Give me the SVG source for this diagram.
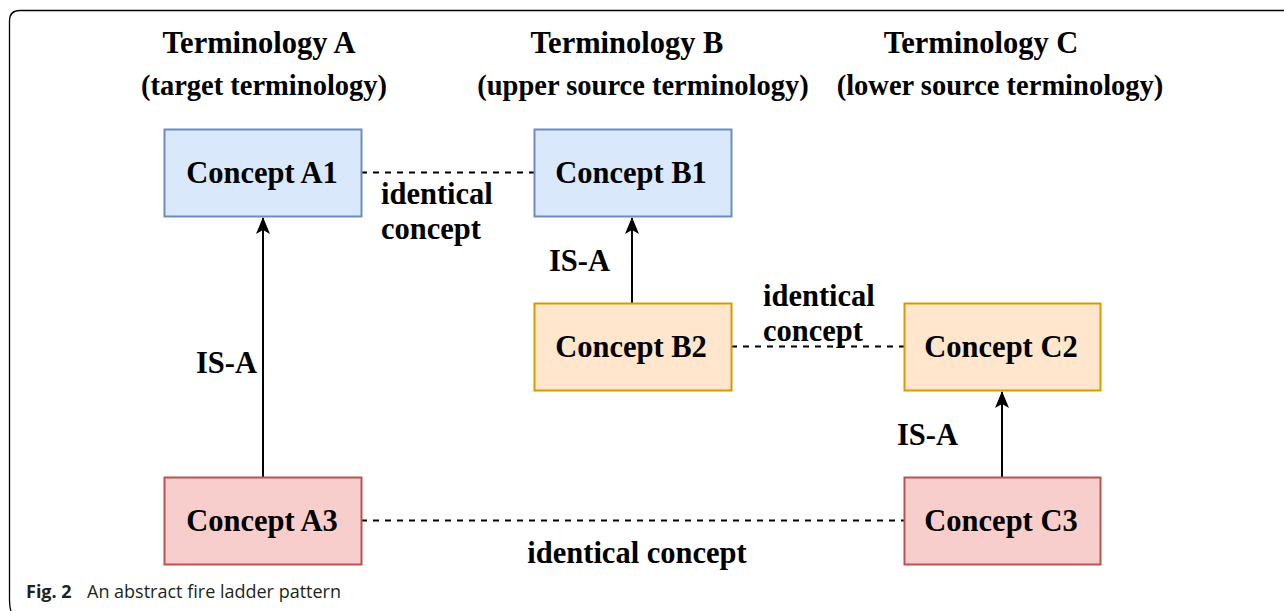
<svg xmlns="http://www.w3.org/2000/svg" width="1284" height="611" viewBox="0 0 1284 611">
<defs>
<style>
.t{font-family:"Liberation Serif","Times New Roman",serif;font-weight:bold;font-size:30.5px;fill:#000}
.s{font-size:28.5px}
.c{text-anchor:middle}
.blue{fill:#dae8fc;stroke:#6c8ebf;stroke-width:2}
.orange{fill:#ffe6cc;stroke:#d79b00;stroke-width:2}
.red{fill:#f8cecc;stroke:#b85450;stroke-width:2}
.dash{stroke:#000;stroke-width:2;stroke-dasharray:6 6;fill:none}
.arr{stroke:#000;stroke-width:2;fill:none;marker-end:url(#ah)}
.cap{font-family:"Open Sans","Noto Sans",sans-serif;font-size:18px;fill:#231f20}
</style>
<marker id="ah" viewBox="0 0 17 14" refX="16" refY="7" markerWidth="17" markerHeight="14" markerUnits="userSpaceOnUse" orient="auto">
<path d="M0,0 L17,7 L0,14 L4,7 Z" fill="#000"/>
</marker>
</defs>
<rect width="1284" height="611" fill="#fff"/>
<path d="M1290,10.5 H20 Q9.5,10.5 9.5,21 V598 Q9.5,607 11,611" fill="none" stroke="#000" stroke-width="1.3"/>
<g id="headers">
<text class="t c" x="259" y="53">Terminology A</text>
<text class="t s c" x="264" y="95">(target terminology)</text>
<text class="t c" x="627" y="53">Terminology B</text>
<text class="t s c" x="643" y="95">(upper source terminology)</text>
<text class="t c" x="981" y="53">Terminology C</text>
<text class="t s c" x="1000" y="95">(lower source terminology)</text>
</g>
<g id="connectors">
<line class="dash" x1="361" y1="172.5" x2="534" y2="172.5"/>
<line class="dash" x1="731" y1="346.5" x2="904" y2="346.5"/>
<line class="dash" x1="361" y1="520.5" x2="904" y2="520.5"/>
<line class="arr" x1="263" y1="477" x2="263" y2="218"/>
<line class="arr" x1="632" y1="303" x2="632" y2="218"/>
<line class="arr" x1="1002" y1="477" x2="1002" y2="392"/>
<text class="t" x="381" y="204">identical</text>
<text class="t" x="381" y="239">concept</text>
<text class="t" x="763" y="306">identical</text>
<text class="t" x="763" y="341">concept</text>
<text class="t c" x="637" y="563">identical concept</text>
<text class="t" x="196" y="373">IS-A</text>
<text class="t" x="549" y="271">IS-A</text>
<text class="t" x="897" y="445">IS-A</text>
</g>
<g id="A1"><rect class="blue" x="164.5" y="129.5" width="197" height="87"/><text class="t c" x="262" y="183">Concept A1</text></g>
<g id="B1"><rect class="blue" x="534.5" y="129.5" width="197" height="87"/><text class="t c" x="631" y="183">Concept B1</text></g>
<g id="B2"><rect class="orange" x="534.5" y="303.5" width="197" height="87"/><text class="t c" x="631" y="357">Concept B2</text></g>
<g id="C2"><rect class="orange" x="904.5" y="303.5" width="196" height="87"/><text class="t c" x="1001" y="357">Concept C2</text></g>
<g id="A3"><rect class="red" x="164.5" y="477.5" width="197" height="87"/><text class="t c" x="262" y="531">Concept A3</text></g>
<g id="C3"><rect class="red" x="904.5" y="477.5" width="196" height="87"/><text class="t c" x="1001" y="531">Concept C3</text></g>
<text class="cap" x="26" y="598"><tspan font-weight="bold">Fig. 2</tspan><tspan x="87">An abstract fire ladder pattern</tspan></text>
</svg>
